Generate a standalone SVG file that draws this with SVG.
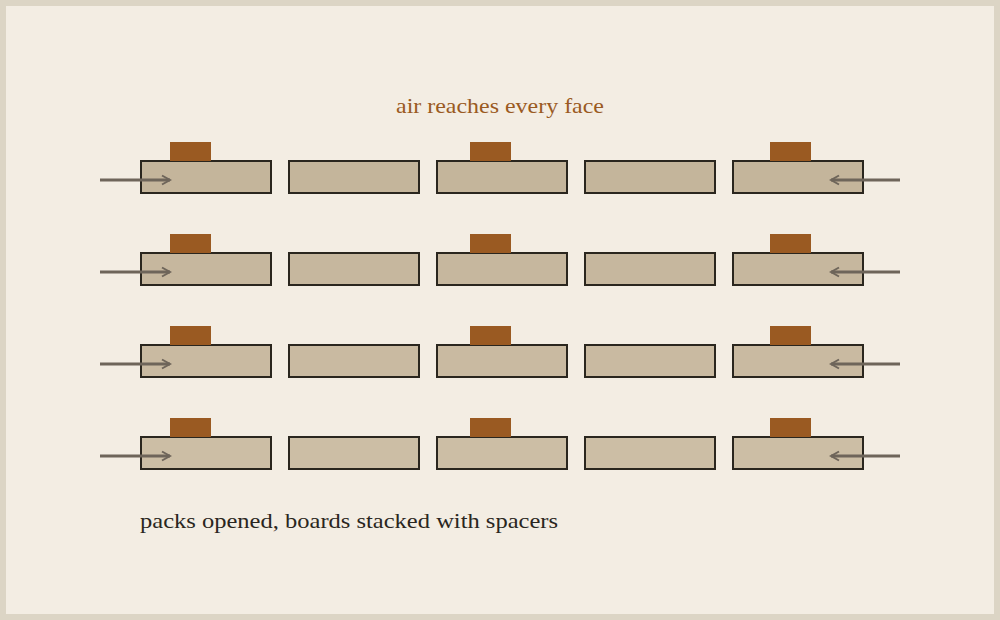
<svg xmlns="http://www.w3.org/2000/svg" width="1000" height="620" viewBox="0 0 1000 620">
<defs>
<style>
.board{stroke:#2a261e;stroke-width:2}
.spacer{fill:#9a5a22}
.air{stroke:#6e655a;stroke-width:3;fill:none}
.t{font-family:"Liberation Serif","DejaVu Serif",serif}
</style>
<marker id="ah" viewBox="0 0 12 12" refX="10" refY="6" markerWidth="12" markerHeight="12" markerUnits="userSpaceOnUse" orient="auto">
<path d="M2,1.5 L10,6 L2,10.5" fill="none" stroke="#6e655a" stroke-width="2"/>
</marker>
</defs>
<rect x="0" y="0" width="1000" height="620" fill="#dcd5c5"/>
<rect x="6" y="6" width="988" height="608" fill="#f3ede3"/>
<text class="t" x="500" y="113" text-anchor="middle" font-size="22" fill="#9a5a22" textLength="208" lengthAdjust="spacingAndGlyphs">air reaches every face</text>
<g id="row1" fill="#c4b59b">
<rect class="board" x="141" y="161" width="130" height="32"/>
<rect class="board" x="289" y="161" width="130" height="32"/>
<rect class="board" x="437" y="161" width="130" height="32"/>
<rect class="board" x="585" y="161" width="130" height="32"/>
<rect class="board" x="733" y="161" width="130" height="32"/>
<rect class="spacer" x="170" y="142" width="41" height="19"/>
<rect class="spacer" x="470" y="142" width="41" height="19"/>
<rect class="spacer" x="770" y="142" width="41" height="19"/>
</g>
<g id="row2" fill="#c6b79e">
<rect class="board" x="141" y="253" width="130" height="32"/>
<rect class="board" x="289" y="253" width="130" height="32"/>
<rect class="board" x="437" y="253" width="130" height="32"/>
<rect class="board" x="585" y="253" width="130" height="32"/>
<rect class="board" x="733" y="253" width="130" height="32"/>
<rect class="spacer" x="170" y="234" width="41" height="19"/>
<rect class="spacer" x="470" y="234" width="41" height="19"/>
<rect class="spacer" x="770" y="234" width="41" height="19"/>
</g>
<g id="row3" fill="#c9baa1">
<rect class="board" x="141" y="345" width="130" height="32"/>
<rect class="board" x="289" y="345" width="130" height="32"/>
<rect class="board" x="437" y="345" width="130" height="32"/>
<rect class="board" x="585" y="345" width="130" height="32"/>
<rect class="board" x="733" y="345" width="130" height="32"/>
<rect class="spacer" x="170" y="326" width="41" height="19"/>
<rect class="spacer" x="470" y="326" width="41" height="19"/>
<rect class="spacer" x="770" y="326" width="41" height="19"/>
</g>
<g id="row4" fill="#ccbea5">
<rect class="board" x="141" y="437" width="130" height="32"/>
<rect class="board" x="289" y="437" width="130" height="32"/>
<rect class="board" x="437" y="437" width="130" height="32"/>
<rect class="board" x="585" y="437" width="130" height="32"/>
<rect class="board" x="733" y="437" width="130" height="32"/>
<rect class="spacer" x="170" y="418" width="41" height="19"/>
<rect class="spacer" x="470" y="418" width="41" height="19"/>
<rect class="spacer" x="770" y="418" width="41" height="19"/>
</g>
<g id="connectors">
<line class="air" x1="100" y1="180" x2="170" y2="180" marker-end="url(#ah)"/>
<line class="air" x1="900" y1="180" x2="831" y2="180" marker-end="url(#ah)"/>
<line class="air" x1="100" y1="272" x2="170" y2="272" marker-end="url(#ah)"/>
<line class="air" x1="900" y1="272" x2="831" y2="272" marker-end="url(#ah)"/>
<line class="air" x1="100" y1="364" x2="170" y2="364" marker-end="url(#ah)"/>
<line class="air" x1="900" y1="364" x2="831" y2="364" marker-end="url(#ah)"/>
<line class="air" x1="100" y1="456" x2="170" y2="456" marker-end="url(#ah)"/>
<line class="air" x1="900" y1="456" x2="831" y2="456" marker-end="url(#ah)"/>
</g>
<text class="t" x="140" y="528" font-size="22" fill="#2a2620" textLength="418" lengthAdjust="spacingAndGlyphs">packs opened, boards stacked with spacers</text>
</svg>
